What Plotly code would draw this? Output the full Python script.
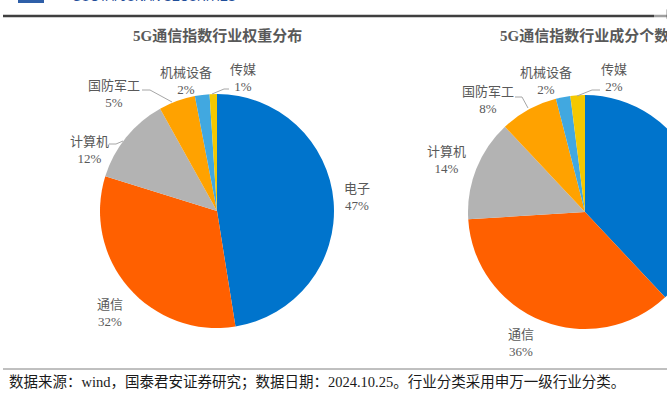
import plotly.graph_objects as go

# ---- data ----
industries = ["电子", "通信", "计算机", "国防军工", "机械设备", "传媒"]
weight_pct = [47, 32, 12, 5, 2, 1]
count_pct = [38, 36, 14, 8, 2, 2]
title_left = "5G通信指数行业权重分布"
title_right = "5G通信指数行业成分个数分布"
source_text = "数据来源：wind，国泰君安证券研究；数据日期：2024.10.25。行业分类采用申万一级行业分类。"
brand_text = "GUOTAI JUNAN SECURITIES"

colors = ["#0074CC", "#FF6000", "#B3B3B3", "#FFA200", "#41A8E0", "#F4C800"]

W, H = 720, 399


def px(x):
    return x / W


def py(y):
    return 1 - y / H


SERIF = "Times New Roman, Liberation Serif, Noto Sans CJK SC"
LABEL_COLOR = "#595959"

fig = go.Figure()

fig.add_trace(go.Pie(
    labels=industries, values=weight_pct, sort=False, direction="clockwise",
    rotation=0, textinfo="none", hoverinfo="skip",
    marker=dict(colors=colors, line=dict(width=0)),
    domain=dict(x=[px(100), px(334)], y=[py(328), py(94)]),
    showlegend=False,
))
fig.add_trace(go.Pie(
    labels=industries, values=count_pct, sort=False, direction="clockwise",
    rotation=0, textinfo="none", hoverinfo="skip",
    marker=dict(colors=colors, line=dict(width=0)),
    domain=dict(x=[px(468), px(702)], y=[py(329), py(95)]),
    showlegend=False,
))

annotations = []

# titles
annotations.append(dict(text=f"<b>{title_left}</b>", x=px(217), y=py(35), xref="paper", yref="paper",
                        showarrow=False, xanchor="center", yanchor="middle",
                        font=dict(family=SERIF, size=15, color=LABEL_COLOR)))
annotations.append(dict(text=f"<b>{title_right}</b>", x=px(498), y=py(35), xref="paper", yref="paper",
                        showarrow=False, xanchor="left", yanchor="middle",
                        font=dict(family=SERIF, size=15, color=LABEL_COLOR)))

# slice labels (label centres in pixels, per slice; None = outside the visible area)
left_pos = [(357, 197), (110, 313), (89, 150), (114, 94), (186, 81), (243, 78)]
right_pos = [None, (521, 343), (446, 160), (488, 100), (546, 81), (614, 78)]

for names, vals, pos in [(industries, weight_pct, left_pos), (industries, count_pct, right_pos)]:
    for name, v, p in zip(names, vals, pos):
        if p is None:
            continue
        x, y = p
        annotations.append(dict(text=f"{name}<br>{v}%", x=px(x), y=py(y), xref="paper", yref="paper",
                                showarrow=False, xanchor="center", yanchor="middle",
                                font=dict(family=SERIF, size=13, color=LABEL_COLOR)))

# source
annotations.append(dict(text=source_text, x=px(7), y=py(382), xref="paper", yref="paper",
                        showarrow=False, xanchor="left", yanchor="middle",
                        font=dict(family=SERIF, size=14.5, color="#1a1a1a")))
# brand text (cut at top)
annotations.append(dict(text=brand_text, x=px(70), y=py(-3), xref="paper", yref="paper",
                        showarrow=False, xanchor="left", yanchor="middle",
                        font=dict(family="Liberation Sans, Arial", size=12, color="#1F4E99")))


def path(points):
    return "M" + " L".join(f"{px(x)},{py(y)}" for x, y in points)


shapes = []
leaders = [
    [(142, 90), (150, 90), (172, 102)],
    [(212, 94), (224, 89), (229, 89)],
    [(109, 144), (116, 144), (123, 141)],
    [(515, 97), (522, 97), (528, 108)],
    [(577, 96), (592, 90), (600, 90)],
]
for pts in leaders:
    shapes.append(dict(type="path", path=path(pts), xref="paper", yref="paper",
                       line=dict(color="#A6A6A6", width=1)))

# header rule
shapes.append(dict(type="line", x0=px(3), x1=1, y0=py(16), y1=py(16), xref="paper", yref="paper",
                   line=dict(color="#3F3F3F", width=2.5)))
# footer rule
shapes.append(dict(type="line", x0=px(3), x1=1, y0=py(369), y1=py(369), xref="paper", yref="paper",
                   line=dict(color="#808080", width=1)))
# logo fragment
shapes.append(dict(type="rect", x0=px(18), x1=px(44), y0=py(3), y1=1,
                   xref="paper", yref="paper", fillcolor="#2E5FA8", line=dict(width=0)))

fig.update_layout(
    width=W, height=H,
    margin=dict(l=0, r=0, t=0, b=0),
    paper_bgcolor="white", plot_bgcolor="white",
    annotations=annotations, shapes=shapes,
)

fig.write_html("out.html", post_script="document.body.style.margin='0';document.body.style.overflow='hidden';document.documentElement.style.overflow='hidden';")
